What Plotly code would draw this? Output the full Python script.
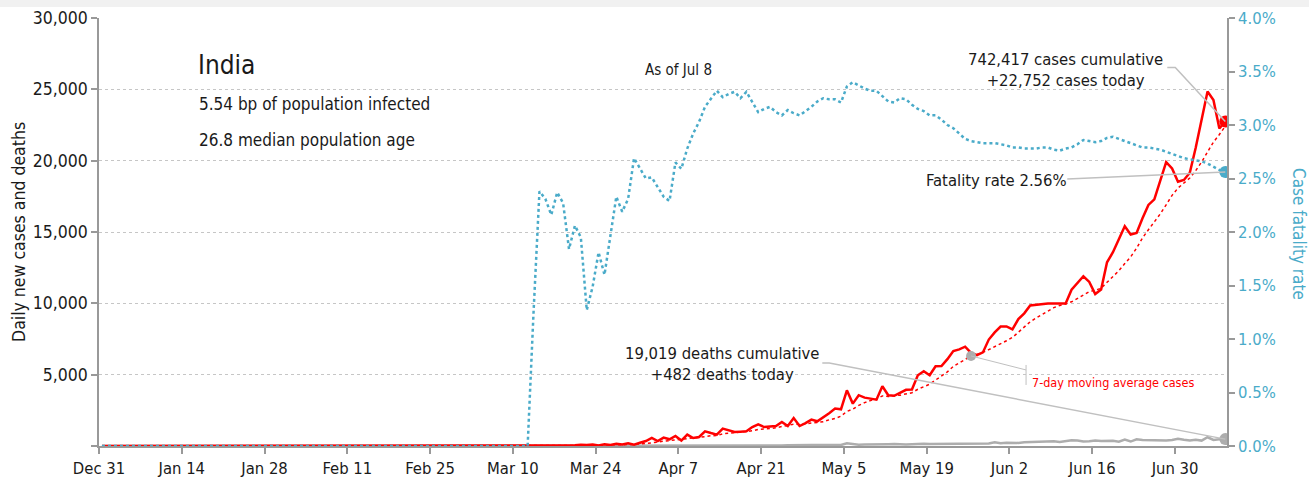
import pandas as pd
import plotly.graph_objects as go

# ---------------- data ----------------
first_date = "2019-12-31 12:00"
last_date = "2020-07-08 12:00"
pre_march_days = 61  # Dec 31 .. Feb 29, all zero

cases_mar = [0, 2, 1, 22, 2, 1, 3, 5, 4, 13, 6, 11, 9, 20, 11, 6, 23, 14, 38, 50,
             86, 66, 103, 37, 121, 70, 160, 100, 184, 92, 227]
cases_apr = [350, 560, 350, 590, 470, 700, 380, 800, 560, 630, 1030, 910, 800, 1220, 1080,
             980, 1000, 1030, 1330, 1520, 1330, 1380, 1400, 1680, 1400, 1960, 1400, 1600, 1850, 1730]
cases_may = [2000, 2300, 2620, 2570, 3900, 2970, 3560, 3390, 3320, 3250, 4190, 3560, 3520, 3720,
             3940, 3960, 4960, 5240, 4960, 5590, 5600, 6090, 6650, 6770, 6960, 6520, 6370, 6560,
             7460, 7960, 8370]
cases_jun = [8380, 8170, 8900, 9300, 9850, 9890, 9970, 9980, 9990, 9985, 9990, 10950, 11450,
             11900, 11500, 10650, 10970, 12880, 13580, 14510, 15400, 14820, 14930, 15960, 16900,
             17290, 18550, 19900, 19450, 18520]
cases_jul = [18650, 19150, 20900, 22770, 24850, 24250, 22250, 22752]

deaths_mar = [0, 0, 0, 0, 0, 0, 0, 0, 0, 0, 0, 0, 1, 1, 0, 0, 1, 0, 1, 1, 0, 2, 3, 2, 1, 3, 6,
              2, 5, 7, 3]
deaths_apr = [3, 13, 6, 17, 13, 32, 13, 35, 20, 30, 33, 35, 36, 31, 38, 27, 23, 36, 31, 36, 47,
              50, 36, 37, 57, 49, 56, 59, 73, 71]
deaths_may = [75, 72, 83, 68, 195, 126, 89, 103, 95, 128, 97, 122, 134, 100, 103, 120, 157, 157,
              134, 140, 132, 137, 148, 147, 154, 146, 170, 194, 175, 265, 193]
deaths_jun = [230, 204, 217, 260, 273, 287, 294, 266, 331, 274, 357, 396, 386, 311, 325, 380,
              343, 336, 375, 306, 445, 312, 465, 418, 407, 384, 410, 380, 418, 507]
deaths_jul = [434, 379, 442, 379, 613, 425, 467, 482]

# case fatality rate, percent
cfr_mar = [0, 0, 0, 0, 0, 0, 0, 0, 0, 0, 0, 0, 1.25, 2.38, 2.31, 2.16, 2.37, 2.27, 1.84, 2.06,
           1.95, 1.27, 1.49, 1.81, 1.60, 1.97, 2.33, 2.19, 2.31, 2.69, 2.59]
cfr_apr = [2.50, 2.51, 2.42, 2.33, 2.29, 2.65, 2.59, 2.78, 2.92, 3.03, 3.17, 3.25, 3.32, 3.26,
           3.29, 3.31, 3.25, 3.31, 3.21, 3.12, 3.15, 3.17, 3.12, 3.09, 3.14, 3.11, 3.09, 3.13,
           3.17, 3.22]
cfr_may = [3.25, 3.24, 3.24, 3.21, 3.36, 3.40, 3.37, 3.34, 3.32, 3.32, 3.27, 3.22, 3.21, 3.25,
           3.24, 3.19, 3.15, 3.13, 3.09, 3.09, 3.05, 3.00, 2.97, 2.92, 2.87, 2.85, 2.84, 2.83,
           2.83, 2.83, 2.82]
cfr_jun = [2.81, 2.79, 2.79, 2.78, 2.78, 2.78, 2.79, 2.79, 2.77, 2.76, 2.78, 2.79, 2.82, 2.86,
           2.85, 2.84, 2.85, 2.88, 2.89, 2.87, 2.85, 2.83, 2.81, 2.79, 2.79, 2.78, 2.77, 2.75,
           2.73, 2.71]
cfr_jul = [2.69, 2.68, 2.67, 2.66, 2.64, 2.61, 2.58, 2.56]

x_tick_dates = ["2019-12-31", "2020-01-14", "2020-01-28", "2020-02-11", "2020-02-25",
                "2020-03-10", "2020-03-24", "2020-04-07", "2020-04-21", "2020-05-05",
                "2020-05-19", "2020-06-02", "2020-06-16", "2020-06-30"]
x_tick_labels = ["Dec 31", "Jan 14", "Jan 28", "Feb 11", "Feb 25", "Mar 10", "Mar 24",
                 "Apr 7", "Apr 21", "May 5", "May 19", "Jun 2", "Jun 16", "Jun 30"]
y_tick_vals = [0, 5000, 10000, 15000, 20000, 25000, 30000]
y_tick_labels = ["", "5,000", "10,000", "15,000", "20,000", "25,000", "30,000"]
y2_tick_vals = [0, 0.005, 0.01, 0.015, 0.02, 0.025, 0.03, 0.035, 0.04]
y2_tick_labels = ["0.0%", "0.5%", "1.0%", "1.5%", "2.0%", "2.5%", "3.0%", "3.5%", "4.0%"]

cases_total = "742,417"
deaths_total = "19,019"
ma_label_date = "2020-05-26"

# ---------------- build series ----------------
dates = pd.date_range(first_date, last_date, freq="D")
zeros = [0] * pre_march_days
cases = pd.Series(zeros + cases_mar + cases_apr + cases_may + cases_jun + cases_jul, index=dates)
deaths = pd.Series(zeros + deaths_mar + deaths_apr + deaths_may + deaths_jun + deaths_jul, index=dates)
cfr = pd.Series(zeros + cfr_mar + cfr_apr + cfr_may + cfr_jun + cfr_jul, index=dates) / 100.0
ma7 = cases.rolling(7, min_periods=1).mean()

RED = "#ff0000"
BLUE = "#4aabc9"
GRAY = "#adadad"
LEAD = "#c0c0c0"
TXT = "#1a1a1a"
FONT = "DejaVu Sans Condensed, Liberation Sans Narrow, sans-serif"

fig = go.Figure()
fig.add_trace(go.Scatter(x=dates, y=deaths, mode="lines", line=dict(color=GRAY, width=2.5),
                         hoverinfo="skip", showlegend=False))
fig.add_trace(go.Scatter(x=dates, y=cases, mode="lines", line=dict(color=RED, width=2.5),
                         hoverinfo="skip", showlegend=False))
fig.add_trace(go.Scatter(x=dates, y=ma7, mode="lines", line=dict(color=RED, width=1.5, dash="dot"),
                         hoverinfo="skip", showlegend=False))
fig.add_trace(go.Scatter(x=dates, y=cfr, mode="lines", yaxis="y2",
                         line=dict(color=BLUE, width=2.5, dash="dot"),
                         hoverinfo="skip", showlegend=False))

ma_ts = pd.Timestamp(ma_label_date + " 12:00")
# end-point dots
fig.add_trace(go.Scatter(x=[dates[-1]], y=[deaths.iloc[-1]], mode="markers",
                         marker=dict(color=GRAY, size=12), showlegend=False, hoverinfo="skip"))
fig.add_trace(go.Scatter(x=[ma_ts], y=[ma7[ma_ts]], mode="markers",
                         marker=dict(color=GRAY, size=10), showlegend=False, hoverinfo="skip"))
fig.add_trace(go.Scatter(x=[dates[-1]], y=[cases.iloc[-1]], mode="markers",
                         marker=dict(color=RED, size=12), showlegend=False, hoverinfo="skip"))
fig.add_trace(go.Scatter(x=[dates[-1]], y=[cfr.iloc[-1]], mode="markers", yaxis="y2",
                         marker=dict(color=BLUE, size=12), showlegend=False, hoverinfo="skip"))

# ---------------- layout ----------------
L, R, T, B = 99, 1227, 18, 446


def px(x):
    return (x - L) / (R - L)


def py(y):
    return (B - y) / (B - T)


ann = []


def add_text(text, x, y, size, color=TXT, xanchor="left", align="left", angle=0):
    ann.append(dict(text=text, x=px(x), y=py(y), xref="paper", yref="paper",
                    xanchor=xanchor, yanchor="middle", align=align, showarrow=False,
                    textangle=angle, font=dict(family=FONT, size=size, color=color)))


add_text("India", 196, 65, 26)
add_text("5.54 bp of population infected", 197, 104, 17)
add_text("26.8 median population age", 197, 140, 17)
add_text("As of Jul 8", 643, 70, 15)
add_text(f"{cases_total} cases cumulative<br>+{cases.iloc[-1]:,} cases today", 1065, 70, 16.5,
         xanchor="center", align="center")
add_text(f"{deaths_total} deaths cumulative<br>+{deaths.iloc[-1]:,} deaths today", 722, 364, 16.5,
         xanchor="center", align="center")
add_text(f"Fatality rate {cfr.iloc[-1] * 100:.2f}%", 924, 180, 16.5)
add_text("7-day moving average cases", 1030, 382, 12.5, color=RED)
add_text("Daily new cases and deaths", 19, 232, 17.5, xanchor="center", angle=-90)
add_text("Case fatality rate", 1299, 234, 17, color=BLUE, xanchor="center", angle=90)

shapes = [
    dict(type="rect", xref="paper", yref="paper", x0=px(0), x1=px(1309), y0=py(7), y1=py(0),
         fillcolor="#f1f1f1", line=dict(width=0), layer="below"),
    dict(type="path", xref="x", yref="y", xsizemode="pixel", ysizemode="pixel",
         xanchor=dates[-1], yanchor=cases.iloc[-1], path="M0,0 L-50,54 L-58,54",
         line=dict(color=LEAD, width=1.5)),
    dict(type="path", xref="x", yref="y", xsizemode="pixel", ysizemode="pixel",
         xanchor=dates[-1], yanchor=deaths.iloc[-1], path="M0,0 L-396,76 L-403,76",
         line=dict(color=LEAD, width=1.5)),
    dict(type="path", xref="x", yref="y2", xsizemode="pixel", ysizemode="pixel",
         xanchor=dates[-1], yanchor=cfr.iloc[-1], path="M0,0 L-158,-7",
         line=dict(color=LEAD, width=1.5)),
    dict(type="path", xref="x", yref="y", xsizemode="pixel", ysizemode="pixel",
         xanchor=ma_ts, yanchor=ma7[ma_ts], path="M0,0 L55,-14 M55,-9 L55,-29",
         line=dict(color=LEAD, width=1)),
]

axis_common = dict(showline=True, linecolor="#999999", linewidth=1.5, ticks="outside",
                   ticklen=6, tickcolor="#999999", tickwidth=1.5, zeroline=False,
                   automargin=False)

fig.update_layout(
    width=1309, height=480,
    margin=dict(l=L, r=1309 - R, t=T, b=480 - B),
    paper_bgcolor="white", plot_bgcolor="white",
    font=dict(family=FONT, size=17, color=TXT),
    xaxis=dict(type="date", range=["2019-12-31 00:00", "2020-07-08 19:00"],
               tickvals=x_tick_dates, ticktext=x_tick_labels, showgrid=False,
               tickfont=dict(family=FONT, size=16.5, color=TXT), **axis_common),
    yaxis=dict(range=[0, 30000], tickvals=y_tick_vals, ticktext=y_tick_labels,
               showgrid=True, gridcolor="#c6c6c6", griddash="dot", gridwidth=1,
               tickfont=dict(family=FONT, size=17.5, color=TXT), **axis_common),
    yaxis2=dict(range=[0, 0.04], overlaying="y", side="right", tickvals=y2_tick_vals,
                ticktext=y2_tick_labels, showgrid=False,
                tickfont=dict(family=FONT, size=16.5, color=BLUE), **axis_common),
    annotations=ann,
    shapes=shapes,
    showlegend=False,
)

fig.write_html("out.html", config={"displayModeBar": False},
               post_script="document.body.style.margin='0';document.body.style.overflow='hidden';")
